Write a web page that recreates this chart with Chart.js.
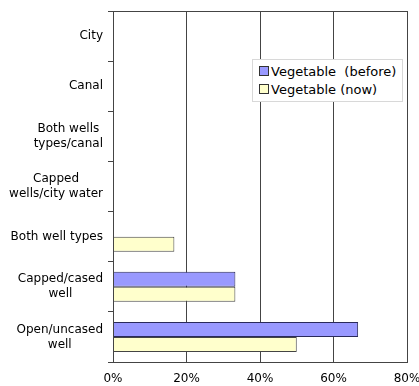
<!DOCTYPE html>
<html>
<head>
<meta charset="utf-8">
<script src="https://cdn.jsdelivr.net/npm/chart.js@4"></script>
<style>
 body { margin: 0; background: #fff; }
 #wrap { position: relative; width: 419px; height: 386px; }
 #legend { position: absolute; left: 252px; top: 59px; width: 151px; height: 43px; background: #fff;
 border: 1px solid #d8d8d8; font: 13px "DejaVu Sans", sans-serif; color: #000; box-sizing: border-box; padding: 3px 0 0 6px; }
 #legend div { white-space: pre; height: 18px; line-height: 18px; }
 #legend span { display: inline-block; width: 8px; height: 8px; border: 1px solid #333; margin-right: 2px; vertical-align: 0px; }
</style>
</head>
<body>
<div id="wrap">
 <canvas id="chart" width="419" height="386"></canvas>
 <div id="legend"></div>
</div>
<script>
 const categories = [
 "City",
 "Canal",
 ["Both wells", "types/canal"],
 ["Capped", "wells/city water"],
 "Both well types",
 ["Capped/cased", "well"],
 ["Open/uncased", "well"]
 ];
 const seriesNames = ["Vegetable  (before)", "Vegetable (now)"];
 const before = [0, 0, 0, 0, 0, 33.3, 66.7];
 const now = [0, 0, 0, 0, 16.7, 33.3, 50];
 const xTicks = [0, 20, 40, 60, 80];
 const colors = ["#9999FF", "#FFFFCC"];

 const legend = document.getElementById("legend");
 seriesNames.forEach((name, i) => {
 const row = document.createElement("div");
 row.innerHTML = `<span style="background:${colors[i]}"></span>`;
 row.appendChild(document.createTextNode(name));
 legend.appendChild(row);
 });

 // plot frame + category labels (right-aligned blocks, centred lines)
 const frame = {
 id: "frame",
 afterDraw(chart) {
 const a = chart.chartArea, c = chart.ctx;
 c.save();
 c.strokeStyle = "#444";
 c.lineWidth = 1;
 c.strokeRect(Math.round(a.left) + 0.5, Math.round(a.top) + 0.5, Math.round(a.right - a.left), Math.round(a.bottom - a.top));

 const y = chart.scales.y;
 c.font = "12px 'DejaVu Sans'";
 c.fillStyle = "#000";
 c.textAlign = "center";
 c.textBaseline = "middle";
 const right = a.left - 10, lh = 15;
 chart.data.labels.forEach((lab, i) => {
 const lines = Array.isArray(lab) ? lab : [lab];
 const w = Math.max(...lines.map(l => c.measureText(l).width));
 const cy = y.getPixelForTick(i);
 lines.forEach((l, k) => {
 c.fillText(l, right - w / 2, cy + (k - (lines.length - 1) / 2) * lh);
 });
 });
 c.restore();
 }
 };

 const ctx = document.getElementById("chart").getContext("2d");
 new Chart(ctx, {
 type: "bar",
 data: {
 labels: categories,
 datasets: [{
 label: seriesNames[0],
 data: before,
 backgroundColor: colors[0],
 borderColor: "#2a2a5a",
 borderWidth: 1
 }, {
 label: seriesNames[1],
 data: now,
 backgroundColor: colors[1],
 borderColor: "#444",
 borderWidth: 1
 }]
 },
 options: {
 indexAxis: "y",
 responsive: false,
 animation: false,
 layout: { padding: { top: 11, right: 0, left: 0, bottom: 0 } },
 categoryPercentage: 0.6,
 barPercentage: 1.0,
 plugins: { legend: { display: false }, tooltip: { enabled: false } },
 scales: {
 x: {
 min: 0,
 max: 80,
 afterBuildTicks(scale) { scale.ticks = xTicks.map(v => ({ value: v })); },
 ticks: { callback: v => v + "%", color: "#000", font: { family: "DejaVu Sans", size: 12 }, padding: 10 },
 grid: { color: "#444", drawTicks: false },
 border: { color: "#444" },
 afterFit(scale) { scale.height = 24; scale.paddingRight = 12; scale.paddingLeft = 0; }
 },
 y: {
 grid: { display: true, drawOnChartArea: false, offset: true, tickLength: 5, color: "#444" },
 border: { color: "#444" },
 ticks: { display: false },
 afterFit(scale) { scale.width = 113; scale.paddingTop = 0; scale.paddingBottom = 0; }
 }
 }
 },
 plugins: [frame]
 });
</script>
</body>
</html>
